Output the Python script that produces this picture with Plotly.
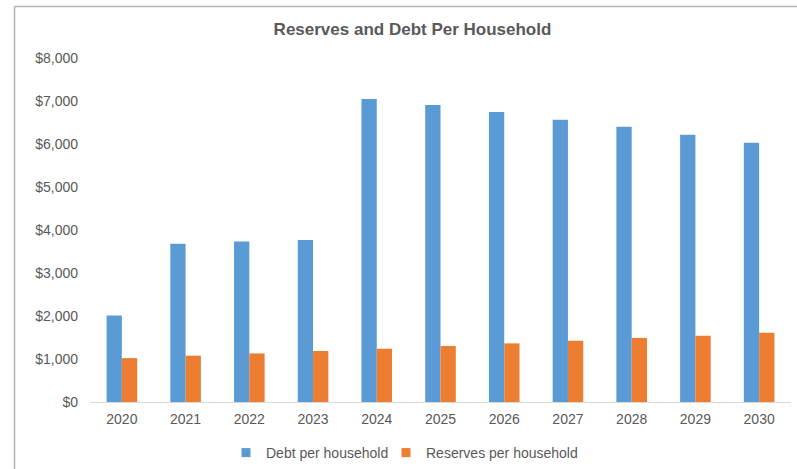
import plotly.graph_objects as go

# Per-household figures by year
years = ["2020", "2021", "2022", "2023", "2024", "2025",
         "2026", "2027", "2028", "2029", "2030"]
debt_per_household = [2010, 3680, 3735, 3765, 7045, 6905,
                      6745, 6565, 6400, 6215, 6030]
reserves_per_household = [1020, 1077, 1130, 1186, 1240, 1302,
                          1363, 1426, 1488, 1542, 1612]
y_tick_values = [0, 1000, 2000, 3000, 4000, 5000, 6000, 7000, 8000]
y_tick_labels = ["$0", "$1,000", "$2,000", "$3,000", "$4,000",
                 "$5,000", "$6,000", "$7,000", "$8,000"]
series_names = ["Debt per household", "Reserves per household"]

BLUE = "#5b9bd5"
ORANGE = "#ed7d31"
TEXT = "#595959"
FONT = "Liberation Sans, Arial, sans-serif"

W, H = 797, 469
ML, MR, MT, MB = 90, 6, 58, 67
PW = W - ML - MR
PH = H - MT - MB


def px_x(x):
    return (x - ML) / PW


def px_y(y):
    return (H - MB - y) / PH


fig = go.Figure()
legend_ids = ["legend", "legend2"]
for name, values, color, lg in zip(series_names,
                                   [debt_per_household, reserves_per_household],
                                   [BLUE, ORANGE], legend_ids):
    fig.add_trace(go.Bar(
        x=years, y=values, name=name, showlegend=False, legendgroup=name,
        marker=dict(color=color, line=dict(width=0)),
    ))
    # small square legend key for the series
    fig.add_trace(go.Scatter(
        x=[None], y=[None], mode="markers", name=name, legendgroup=name,
        legend=lg, marker=dict(symbol="square", size=9, color=color),
    ))

# Chart-area frame (left and top edges)
fig.add_shape(type="line", xref="paper", yref="paper",
              x0=px_x(14.5), x1=px_x(14.5), y0=px_y(475), y1=px_y(6.5),
              line=dict(color="#b4b4b4", width=1.5))
fig.add_shape(type="line", xref="paper", yref="paper",
              x0=px_x(14.5), x1=px_x(805), y0=px_y(6.5), y1=px_y(6.5),
              line=dict(color="#b4b4b4", width=1.5))

legend_style = dict(orientation="h", xanchor="left", yanchor="middle",
                    y=px_y(453), font=dict(family=FONT, size=14, color=TEXT),
                    bgcolor="rgba(0,0,0,0)", itemclick=False)

fig.update_layout(
    width=W, height=H,
    margin=dict(l=ML, r=MR, t=MT, b=MB, autoexpand=False),
    paper_bgcolor="white", plot_bgcolor="white",
    font=dict(family=FONT, size=14, color=TEXT),
    title=dict(text="<b>Reserves and Debt Per Household</b>",
               x=px_x(412.5), xref="paper", xanchor="center",
               y=1 - 29 / H, yanchor="middle",
               font=dict(family=FONT, size=17, color=TEXT)),
    barmode="group", bargap=0.52, bargroupgap=0,
    showlegend=True,
    legend=dict(x=px_x(226), **legend_style),
    legend2=dict(x=px_x(386), **legend_style),
    xaxis=dict(showline=True, linecolor="#d9d9d9", linewidth=1,
               ticks="", showgrid=False, tickfont=dict(size=14, color=TEXT),
               ticklabelstandoff=4),
    yaxis=dict(range=[0, 8000], tickvals=y_tick_values, ticktext=y_tick_labels,
               showgrid=False, zeroline=False, showline=False, ticks="",
               tickfont=dict(size=14, color=TEXT), ticklabelstandoff=11),
)

fig.write_html("out.html")
